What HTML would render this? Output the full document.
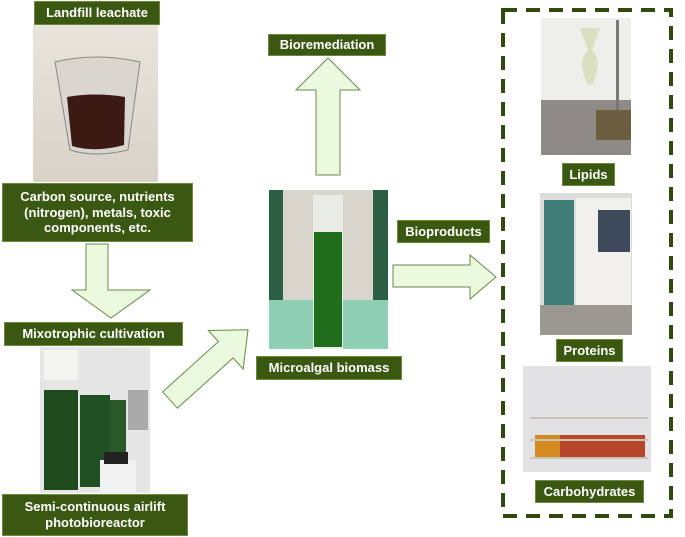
<!DOCTYPE html>
<html><head><meta charset="utf-8"><style>
body{margin:0;background:#fff;}
.l{position:absolute;background:#3b5812;color:#fff;font-family:"Liberation Sans",sans-serif;font-weight:bold;text-align:center;border:1px solid #6d8a3a;box-sizing:border-box;line-height:1.2;display:flex;align-items:center;justify-content:center;}
</style></head><body>
<div style="position:relative;width:685px;height:537px;overflow:hidden">
<svg width="685" height="537" style="position:absolute;left:0;top:0">
<defs>
<linearGradient id="bk" x1="0" y1="0" x2="0" y2="1"><stop offset="0" stop-color="#e9e4dc"/><stop offset="1" stop-color="#d8d2c8"/></linearGradient>
</defs>
<rect x="33" y="25" width="125" height="157" fill="url(#bk)"/>
<path d="M55 62 Q95 52 140 62 L128 150 Q95 158 70 150 Z" fill="#d9d5cf" stroke="#888"/>
<path d="M67 97 Q95 92 125 97 L124 145 Q95 153 72 146 Z" fill="#3a1a12"/>
<rect x="40" y="347" width="110" height="146" fill="#e6e6e6"/>
<rect x="44" y="350" width="34" height="30" fill="#f4f4f0"/>
<rect x="44" y="390" width="34" height="100" fill="#1e4a1e"/>
<rect x="80" y="395" width="30" height="92" fill="#1f4f22"/>
<rect x="110" y="400" width="16" height="55" fill="#2a5a2a"/>
<rect x="128" y="390" width="20" height="40" fill="#aaaaaa"/>
<rect x="100" y="460" width="36" height="32" fill="#f2f2f2"/>
<rect x="104" y="452" width="24" height="12" fill="#222"/>
<rect x="269" y="190" width="119" height="159" fill="#d8d6cc"/>
<rect x="269" y="190" width="14" height="159" fill="#2c5e44"/>
<rect x="373" y="190" width="15" height="159" fill="#2c5e44"/>
<rect x="269" y="300" width="119" height="49" fill="#8fcfb5"/>
<rect x="313" y="195" width="30" height="154" fill="#e8ece4"/>
<rect x="314" y="232" width="28" height="115" fill="#1f6e1c"/>
<rect x="541" y="18" width="90" height="137" fill="#eeeeea"/>
<rect x="541" y="100" width="90" height="55" fill="#8e8a86"/>
<path d="M580 28 L600 28 L592 50 Q603 62 592 85 L588 85 Q576 62 588 50 Z" fill="#d8e0c0"/>
<rect x="616" y="20" width="3" height="120" fill="#777"/>
<rect x="596" y="110" width="35" height="30" fill="#6d5e40"/>
<rect x="540" y="193" width="92" height="142" fill="#dcdcd8"/>
<rect x="544" y="200" width="30" height="110" fill="#3f7e78"/>
<rect x="576" y="198" width="55" height="125" fill="#f2f0ec"/>
<rect x="598" y="210" width="32" height="42" fill="#3c4a5c"/>
<rect x="540" y="305" width="92" height="30" fill="#9a9890"/>
<rect x="523" y="366" width="128" height="106" fill="#e2e2e4"/>
<rect x="535" y="435" width="110" height="22" fill="#b8452a"/>
<rect x="535" y="435" width="25" height="22" fill="#d58a20"/>
<g stroke="#c8c4b8" stroke-width="2"><line x1="530" y1="418" x2="648" y2="418"/><line x1="530" y1="440" x2="648" y2="440"/><line x1="530" y1="458" x2="648" y2="458"/></g>
<g fill="#ebf9de" stroke="#6b8a4a" stroke-width="1">
<polygon points="86,244 108,244 108,290 150,290 111,318 72,290 86,290"/>
<polygon points="316,175 340,175 340,90 360,90 328,58 296,90 316,90"/>
<polygon points="393,265 470,265 470,255 496,277 470,299 470,287 393,287"/>
<g transform="translate(170,400) rotate(-42)"><polygon points="0,-11 75,-11 75,-26 105,0 75,26 75,11 0,11"/></g>
</g>
<rect x="503" y="10" width="168" height="506" fill="none" stroke="#2f4a0c" stroke-width="4" stroke-dasharray="14 9"/>
</svg>
<div class="l" style="left:34px;top:1px;width:126px;height:24px;font-size:13px">Landfill leachate</div>
<div class="l" style="left:2px;top:183px;width:191px;height:59px;font-size:13px">Carbon source, nutrients (nitrogen), metals, toxic components, etc.</div>
<div class="l" style="left:4px;top:322px;width:179px;height:24px;font-size:13px">Mixotrophic cultivation</div>
<div class="l" style="left:2px;top:494px;width:186px;height:42px;font-size:13px">Semi-continuous airlift photobioreactor</div>
<div class="l" style="left:256px;top:356px;width:146px;height:24px;font-size:13px">Microalgal biomass</div>
<div class="l" style="left:268px;top:34px;width:118px;height:22px;font-size:13px">Bioremediation</div>
<div class="l" style="left:397px;top:220px;width:93px;height:23px;font-size:13px">Bioproducts</div>
<div class="l" style="left:562px;top:163px;width:53px;height:23px;font-size:13px">Lipids</div>
<div class="l" style="left:556px;top:339px;width:67px;height:23px;font-size:13px">Proteins</div>
<div class="l" style="left:535px;top:480px;width:109px;height:23px;font-size:13px">Carbohydrates</div>
</div>
</body></html>
